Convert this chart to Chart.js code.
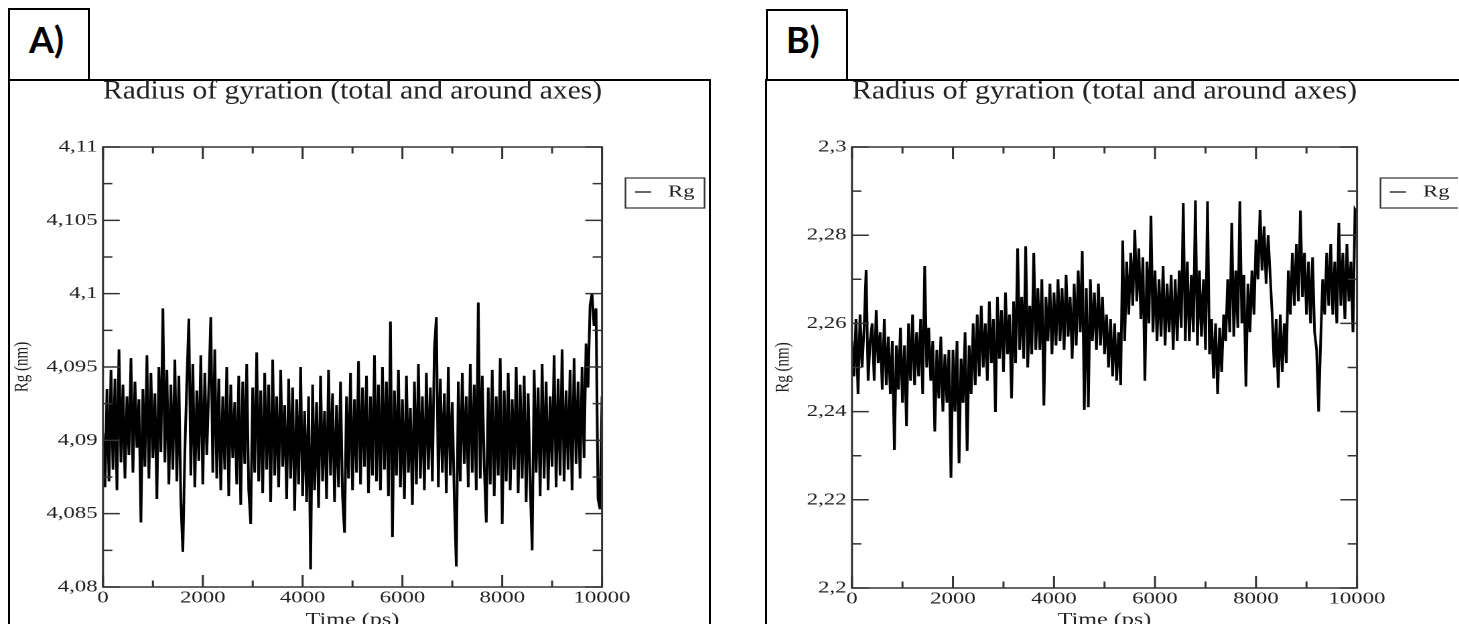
<!DOCTYPE html>
<html><head><meta charset="utf-8">
<script src="https://cdn.jsdelivr.net/npm/chart.js@4/dist/chart.umd.min.js"></script>
<style>
html,body{margin:0;padding:0;background:#fff;width:1459px;height:624px;overflow:hidden;}
.box{position:absolute;border:2px solid #000;box-sizing:border-box;}
.lab{position:absolute;font-family:Lato,'Open Sans',sans-serif;font-weight:700;font-size:36px;line-height:43px;color:#000;}
.wrap{position:absolute;top:80px;transform-origin:0 0;transform:scaleX(1.34);}
</style></head><body>
<div class="box" style="left:8px;top:79px;width:703px;height:600px"></div>
<div class="box" style="left:8px;top:8px;width:82px;height:73px"><span class="lab" style="left:19px;top:8px">A)</span></div>
<div class="box" style="left:765px;top:79px;width:720px;height:600px"></div>
<div class="box" style="left:766px;top:9px;width:82px;height:72px"><span class="lab" style="left:18px;top:7px">B)</span></div>
<div class="wrap" style="left:10px"><canvas id="cA" width="521" height="560"></canvas></div>
<div class="wrap" style="left:767px"><canvas id="cB" width="516" height="560"></canvas></div>
<script>
const chartTitle = 'Radius of gyration (total and around axes)';
const xAxisTitle = 'Time (ps)';
const yAxisTitle = 'Rg (nm)';
const seriesLabel = 'Rg';
const timeEndPs = 10000;
const xTicks = [0, 2000, 4000, 6000, 8000, 10000];
const xTickLabels = ['0', '2000', '4000', '6000', '8000', '10000'];
const xMinor = [1000, 3000, 5000, 7000, 9000];

const yTicksA = [4.08, 4.085, 4.09, 4.095, 4.1, 4.105, 4.11];
const yTickLabelsA = ['4,08', '4,085', '4,09', '4,095', '4,1', '4,105', '4,11'];
const yMinorA = [4.0825, 4.0875, 4.0925, 4.0975, 4.1025, 4.1075];
const yTicksB = [2.2, 2.22, 2.24, 2.26, 2.28, 2.3];
const yTickLabelsB = ['2,2', '2,22', '2,24', '2,26', '2,28', '2,3'];
const yMinorB = [2.21, 2.23, 2.25, 2.27, 2.29];

const rgA = [
4.0905,4.0868,4.0935,4.0872,4.0948,4.0880,4.0942,4.0866,4.0962,4.0885,
4.0938,4.0874,4.0930,4.0890,4.0956,4.0878,4.0940,4.0895,4.0928,4.0844,
4.0935,4.0882,4.0958,4.0874,4.0946,4.0888,4.0932,4.0860,4.0950,4.0892,
4.0990,4.0885,4.0948,4.0870,4.0938,4.0880,4.0955,4.0872,4.0944,4.0858,
4.0824,4.0892,4.0940,4.0983,4.0876,4.0952,4.0868,4.0934,4.0886,4.0958,
4.0870,4.0946,4.0890,4.0936,4.0984,4.0878,4.0962,4.0874,4.0942,4.0866,
4.0930,4.0880,4.0950,4.0862,4.0938,4.0888,4.0926,4.0870,4.0944,4.0856,
4.0940,4.0884,4.0952,4.0866,4.0843,4.0936,4.0878,4.0960,4.0872,4.0934,
4.0864,4.0946,4.0880,4.0938,4.0858,4.0955,4.0876,4.0930,4.0868,4.0948,
4.0882,4.0924,4.0860,4.0942,4.0874,4.0936,4.0852,4.0928,4.0870,4.0950,
4.0862,4.0920,4.0858,4.0930,4.0812,4.0938,4.0866,4.0926,4.0854,4.0944,
4.0872,4.0920,4.0860,4.0948,4.0876,4.0932,4.0858,4.0924,4.0868,4.0940,
4.0862,4.0837,4.0930,4.0874,4.0946,4.0866,4.0928,4.0878,4.0954,4.0870,
4.0936,4.0882,4.0944,4.0864,4.0930,4.0876,4.0958,4.0872,4.0938,4.0866,
4.0950,4.0880,4.0940,4.0862,4.0981,4.0834,4.0934,4.0876,4.0948,4.0868,
4.0928,4.0860,4.0944,4.0878,4.0922,4.0856,4.0940,4.0870,4.0952,4.0874,
4.0930,4.0866,4.0946,4.0880,4.0936,4.0872,4.0962,4.0984,4.0868,4.0942,
4.0878,4.0932,4.0864,4.0950,4.0876,4.0926,4.0860,4.0814,4.0940,4.0872,
4.0946,4.0884,4.0930,4.0868,4.0952,4.0878,4.0938,4.0866,4.0994,4.0874,
4.0944,4.0882,4.0844,4.0936,4.0870,4.0948,4.0862,4.0930,4.0876,4.0956,
4.0843,4.0934,4.0872,4.0946,4.0866,4.0928,4.0880,4.0950,4.0864,4.0938,
4.0874,4.0944,4.0858,4.0932,4.0870,4.0825,4.0948,4.0878,4.0936,4.0862,
4.0952,4.0874,4.0940,4.0866,4.0930,4.0882,4.0958,4.0868,4.0942,4.0876,
4.0962,4.0872,4.0934,4.0880,4.0948,4.0866,4.0956,4.0884,4.0940,4.0874,
4.0950,4.0888,4.0966,4.0936,4.0992,4.1000,4.0978,4.0990,4.0860,4.0853,
4.0930];

const rgB = [
2.2560,2.2480,2.2610,2.2440,2.2620,2.2500,2.2590,2.2721,2.2470,2.2560,
2.2600,2.2470,2.2630,2.2510,2.2580,2.2450,2.2610,2.2460,2.2570,2.2440,
2.2560,2.2313,2.2550,2.2450,2.2590,2.2420,2.2550,2.2367,2.2600,2.2470,
2.2620,2.2460,2.2580,2.2480,2.2610,2.2440,2.2730,2.2500,2.2590,2.2470,
2.2560,2.2355,2.2540,2.2430,2.2570,2.2400,2.2530,2.2420,2.2540,2.2250,
2.2540,2.2400,2.2560,2.2283,2.2520,2.2420,2.2580,2.2311,2.2550,2.2440,
2.2600,2.2460,2.2620,2.2480,2.2640,2.2500,2.2600,2.2470,2.2650,2.2510,
2.2610,2.2399,2.2660,2.2520,2.2630,2.2490,2.2670,2.2530,2.2620,2.2430,
2.2650,2.2510,2.2770,2.2540,2.2660,2.2520,2.2775,2.2500,2.2640,2.2530,
2.2760,2.2540,2.2680,2.2540,2.2700,2.2414,2.2660,2.2560,2.2690,2.2530,
2.2670,2.2550,2.2700,2.2560,2.2680,2.2540,2.2710,2.2570,2.2660,2.2520,
2.2690,2.2550,2.2720,2.2580,2.2764,2.2404,2.2680,2.2410,2.2700,2.2560,
2.2670,2.2540,2.2690,2.2550,2.2660,2.2530,2.2620,2.2500,2.2610,2.2480,
2.2600,2.2470,2.2580,2.2460,2.2788,2.2560,2.2740,2.2620,2.2760,2.2640,
2.2812,2.2650,2.2770,2.2610,2.2750,2.2470,2.2740,2.2600,2.2844,2.2580,
2.2720,2.2560,2.2700,2.2570,2.2730,2.2550,2.2690,2.2580,2.2710,2.2540,
2.2700,2.2560,2.2720,2.2590,2.2873,2.2560,2.2740,2.2560,2.2710,2.2580,
2.2879,2.2550,2.2720,2.2570,2.2700,2.2540,2.2877,2.2530,2.2610,2.2475,
2.2600,2.2440,2.2590,2.2490,2.2620,2.2560,2.2700,2.2580,2.2828,2.2570,
2.2720,2.2590,2.2877,2.2600,2.2710,2.2457,2.2690,2.2580,2.2720,2.2620,
2.2790,2.2700,2.2857,2.2720,2.2820,2.2690,2.2800,2.2710,2.2620,2.2500,
2.2610,2.2454,2.2620,2.2490,2.2600,2.2510,2.2720,2.2620,2.2760,2.2640,
2.2780,2.2650,2.2856,2.2660,2.2760,2.2620,2.2740,2.2600,2.2750,2.2580,
2.2540,2.2400,2.2560,2.2700,2.2620,2.2760,2.2640,2.2780,2.2620,2.2740,
2.2600,2.2828,2.2640,2.2760,2.2610,2.2780,2.2650,2.2740,2.2580,2.2858,
2.2850];

const serif = "'Liberation Serif','Times New Roman',serif";
const ink = '#222';

function framePlugin(yMajor, yMinor) {
  return {
    id: 'frameTicks',
    afterDatasetsDraw(chart) {
      const {ctx, chartArea: a, scales: {x, y}} = chart;
      ctx.save();
      ctx.strokeStyle = '#333';
      ctx.lineWidth = 1.5;
      ctx.strokeRect(a.left, a.top, a.right - a.left, a.bottom - a.top);
      ctx.beginPath();
      const xt = (vals, len) => vals.forEach(v => {
        const p = x.getPixelForValue(v);
        ctx.moveTo(p, a.bottom); ctx.lineTo(p, a.bottom - len);
        ctx.moveTo(p, a.top); ctx.lineTo(p, a.top + len);
      });
      const yt = (vals, len) => vals.forEach(v => {
        const p = y.getPixelForValue(v);
        ctx.moveTo(a.left, p); ctx.lineTo(a.left + len, p);
        ctx.moveTo(a.right, p); ctx.lineTo(a.right - len, p);
      });
      xt(xTicks, 12); xt(xMinor, 6.5);
      yt(yMajor, 12.5); yt(yMinor, 7);
      ctx.stroke();
      // legend box
      const lx = a.right + 17.5, ly = a.top + 31;
      ctx.lineWidth = 1.2;
      ctx.strokeRect(lx, ly, 59, 30);
      ctx.strokeStyle = '#000';
      ctx.beginPath();
      ctx.moveTo(a.right + 24.6, a.top + 45);
      ctx.lineTo(a.right + 36.6, a.top + 45);
      ctx.stroke();
      ctx.fillStyle = ink;
      ctx.font = "17px " + serif;
      ctx.textBaseline = 'middle';
      ctx.textAlign = 'left';
      ctx.fillText(chart.data.datasets[0].label, a.right + 49.2, a.top + 45);
      ctx.restore();
    }
  };
}

function makeChart(id, values, yMin, yMax, yMajor, yLabels, yMinor, caLeft, caRight, caBottom, yTitlePad) {
  const canvas = document.getElementById(id);
  const W = canvas.width, H = canvas.height;
  const n = values.length;
  const pts = values.map((v, i) => ({x: i * timeEndPs / (n - 1), y: v}));
  return new Chart(canvas, {
    type: 'line',
    data: {datasets: [{label: seriesLabel, data: pts, borderColor: '#000', borderWidth: 2, pointRadius: 0, tension: 0, fill: false, borderJoinStyle: 'miter'}]},
    options: {
      responsive: false, animation: false, devicePixelRatio: 2,
      layout: {padding: {left: 0, top: 0, right: W - caRight, bottom: 9}},
      plugins: {
        legend: {display: false},
        tooltip: {enabled: false},
        title: {display: true, text: chartTitle, fullSize: false, color: ink,
          font: {family: serif, size: 26.5, weight: 'normal', lineHeight: 0.6},
          padding: {top: 3.5, bottom: 47.6}}
      },
      scales: {
        x: {type: 'linear', min: 0, max: timeEndPs,
          grid: {display: false, drawTicks: false}, border: {display: false},
          afterBuildTicks: s => { s.ticks = xTicks.map(v => ({value: v})); },
          afterFit: s => { s.height = H - 9 - caBottom; },
          ticks: {color: ink, font: {family: serif, size: 17}, padding: 1, maxRotation: 0, autoSkip: false,
            callback: (v, i) => xTickLabels[i]},
          title: {display: true, text: xAxisTitle, color: ink, font: {family: serif, size: 18}, padding: {top: 0, bottom: 0}}
        },
        y: {type: 'linear', min: yMin, max: yMax,
          grid: {display: false, drawTicks: false}, border: {display: false},
          afterBuildTicks: s => { s.ticks = yMajor.map(v => ({value: v})); },
          afterFit: s => { s.width = caLeft; },
          ticks: {color: ink, font: {family: serif, size: 17}, padding: 4, autoSkip: false,
            callback: (v, i) => yLabels[i]},
          title: {display: true, text: yAxisTitle, color: ink, font: {family: serif, size: 15}, padding: {top: yTitlePad, bottom: 0}}
        }
      }
    },
    plugins: [framePlugin(yMajor, yMinor)]
  });
}

makeChart('cA', rgA, 4.08, 4.11, yTicksA, yTickLabelsA, yMinorA, 69.4, 441.8, 507, 0);
makeChart('cB', rgB, 2.2, 2.3, yTicksB, yTickLabelsB, yMinorB, 63.4, 440.3, 508, 3);
</script>
</body></html>
